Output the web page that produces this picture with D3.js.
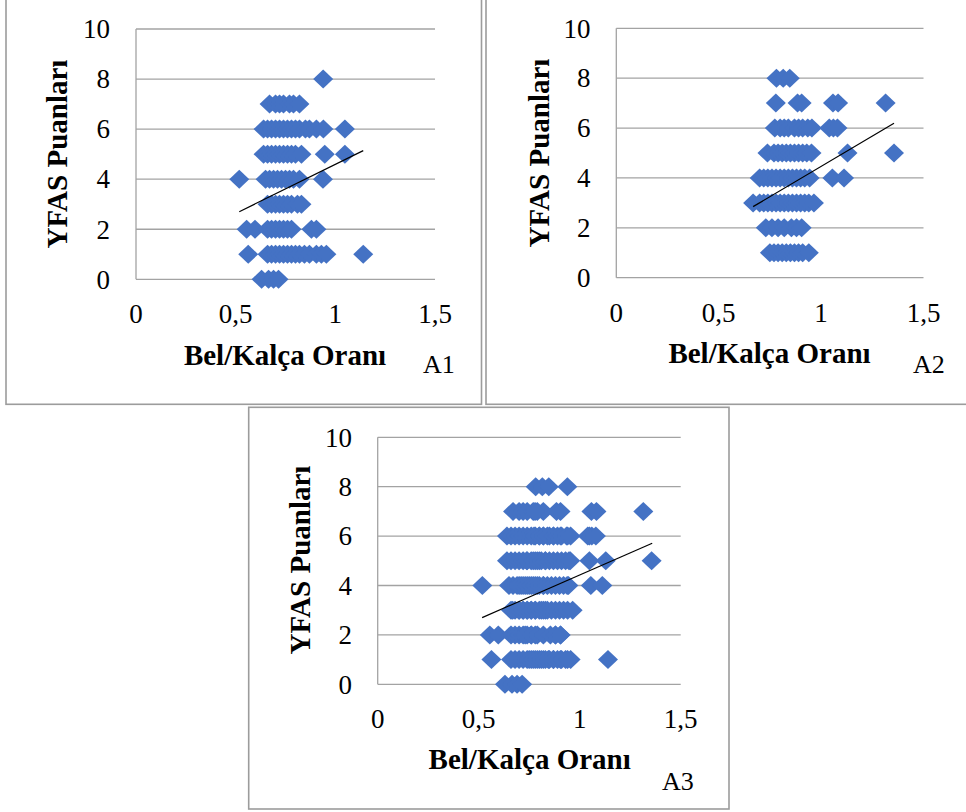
<!DOCTYPE html>
<html>
<head>
<meta charset="utf-8">
<script src="https://cdn.jsdelivr.net/npm/d3@7/dist/d3.min.js"></script>
<style>
  html, body { margin: 0; padding: 0; background: #fff; }
  svg { display: block; }
</style>
</head>
<body>
<svg id="chart" width="966" height="812"></svg>
<script>
// Shared axis content
const xTicks = [0, 0.5, 1, 1.5];
const yTicks = [0, 2, 4, 6, 8, 10];
const xTitle = "Bel/Kalça Oranı";
const yTitle = "YFAS Puanları";
const panelNames = ["A1", "A2", "A3"];

// Group A1: waist/hip ratio and YFAS score, one [ratio, score] pair per participant
const groupA1 = [
  [0.63,0],[0.665,0],[0.69,0],[0.715,0],
  [0.563,1],[0.66,1],[0.68,1],[0.70,1],[0.72,1],[0.74,1],[0.76,1],[0.78,1],[0.80,1],[0.82,1],[0.845,1],[0.87,1],[0.905,1],[0.93,1],[0.955,1],[1.14,1],
  [0.555,2],[0.597,2],[0.66,2],[0.68,2],[0.70,2],[0.72,2],[0.74,2],[0.76,2],[0.78,2],[0.88,2],[0.905,2],
  [0.66,3],[0.68,3],[0.70,3],[0.72,3],[0.74,3],[0.76,3],[0.78,3],[0.81,3],[0.83,3],
  [0.518,4],[0.65,4],[0.67,4],[0.69,4],[0.71,4],[0.73,4],[0.75,4],[0.77,4],[0.79,4],[0.82,4],[0.938,4],
  [0.64,5],[0.66,5],[0.68,5],[0.70,5],[0.72,5],[0.74,5],[0.76,5],[0.78,5],[0.80,5],[0.83,5],[0.947,5],[1.048,5],
  [0.64,6],[0.66,6],[0.68,6],[0.70,6],[0.72,6],[0.74,6],[0.76,6],[0.78,6],[0.80,6],[0.82,6],[0.85,6],[0.87,6],[0.905,6],[0.94,6],[1.048,6],
  [0.67,7],[0.70,7],[0.72,7],[0.74,7],[0.77,7],[0.79,7],[0.82,7],
  [0.939,8]
];

// Group A2
const groupA2 = [
  [0.75,1],[0.77,1],[0.79,1],[0.81,1],[0.83,1],[0.85,1],[0.87,1],[0.89,1],[0.91,1],[0.94,1],
  [0.73,2],[0.76,2],[0.79,2],[0.82,2],[0.855,2],[0.88,2],[0.905,2],
  [0.668,3],[0.70,3],[0.72,3],[0.74,3],[0.76,3],[0.78,3],[0.80,3],[0.82,3],[0.84,3],[0.86,3],[0.88,3],[0.90,3],[0.92,3],[0.94,3],[0.965,3],
  [0.70,4],[0.72,4],[0.74,4],[0.76,4],[0.78,4],[0.80,4],[0.82,4],[0.84,4],[0.86,4],[0.88,4],[0.90,4],[0.92,4],[0.944,4],[1.055,4],[1.112,4],
  [0.738,5],[0.77,5],[0.79,5],[0.81,5],[0.83,5],[0.85,5],[0.87,5],[0.89,5],[0.91,5],[0.93,5],[0.953,5],[1.129,5],[1.356,5],
  [0.774,6],[0.80,6],[0.82,6],[0.84,6],[0.87,6],[0.89,6],[0.91,6],[0.935,6],[0.955,6],[1.04,6],[1.06,6],[1.08,6],
  [0.779,7],[0.885,7],[0.905,7],[1.058,7],[1.083,7],[1.315,7],
  [0.782,8],[0.815,8],[0.847,8]
];

// A3 pools both groups
const groupA3 = groupA1.concat(groupA2);

// Linear trend lines: [ratio start, score start, ratio end, score end]
const trendA1 = [0.518, 2.70, 1.14, 5.14];
const trendA2 = [0.668, 2.85, 1.356, 6.19];
const trendA3 = [0.517, 2.70, 1.359, 5.71];

const serif = "'Liberation Serif', 'Times New Roman', Times, 'DejaVu Serif', serif";

const svg = d3.select("#chart");
svg.append("rect").attr("width", 966).attr("height", 812).attr("fill", "#fff");

const gridColor = "#a3a3a3";
const frameColor = "#9c9c9c";
const markColor = "#4472C4";

// layout of each panel
const panels = [
  { name: panelNames[0], data: groupA1, trend: trendA1,
    frame: [6, -3, 481.5, 404.3],
    plot: { left: 136, right: 435, top: 29, bottom: 279.3 },
    xLabelY: 323, yLabelX: 110,
    xTitle: [285, 365], yTitle: [67, 154], tag: [423, 373] },
  { name: panelNames[1], data: groupA2, trend: trendA2,
    frame: [486, -3, 975, 404.3],
    plot: { left: 616.3, right: 923.5, top: 28.3, bottom: 277.7 },
    xLabelY: 321.5, yLabelX: 590.5,
    xTitle: [769.5, 363.3], yTitle: [549, 153], tag: [913, 373] },
  { name: panelNames[2], data: groupA3, trend: trendA3,
    frame: [248.7, 407.3, 729, 809],
    plot: { left: 377.7, right: 680.7, top: 437.3, bottom: 684.3 },
    xLabelY: 728.3, yLabelX: 352,
    xTitle: [529.7, 769.3], yTitle: [310, 560], tag: [662, 790] }
];

// diamond marker, 20px wide and 19px tall
const diamondMark = {
  draw(ctx) {
    ctx.moveTo(0, -9.5);
    ctx.lineTo(10, 0);
    ctx.lineTo(0, 9.5);
    ctx.lineTo(-10, 0);
    ctx.closePath();
  }
};
const diamond = d3.symbol().type(diamondMark);

panels.forEach(p => {
  const g = svg.append("g").attr("font-family", serif);
  const [fx0, fy0, fx1, fy1] = p.frame;
  g.append("rect")
    .attr("x", fx0).attr("y", fy0)
    .attr("width", fx1 - fx0).attr("height", fy1 - fy0)
    .attr("fill", "none").attr("stroke", frameColor).attr("stroke-width", 1.6);

  const x = d3.scaleLinear().domain([0, 1.5]).range([p.plot.left, p.plot.right]);
  const y = d3.scaleLinear().domain([0, 10]).range([p.plot.bottom, p.plot.top]);

  // horizontal gridlines (the one at 0 is the x axis)
  g.selectAll("line.grid").data(yTicks).enter().append("line")
    .attr("x1", x(0)).attr("x2", x(1.5))
    .attr("y1", d => y(d)).attr("y2", d => y(d))
    .attr("stroke", gridColor).attr("stroke-width", 1.3);
  // vertical axis line
  g.append("line")
    .attr("x1", x(0)).attr("x2", x(0))
    .attr("y1", y(10)).attr("y2", y(0))
    .attr("stroke", gridColor).attr("stroke-width", 1.3);

  // tick labels
  g.selectAll("text.yt").data(yTicks).enter().append("text")
    .attr("font-family", serif)
    .attr("x", p.yLabelX).attr("y", d => y(d) + 9.3)
    .attr("text-anchor", "end").attr("font-size", 27)
    .text(d => d);
  g.selectAll("text.xt").data(xTicks).enter().append("text")
    .attr("font-family", serif)
    .attr("x", d => x(d)).attr("y", p.xLabelY)
    .attr("text-anchor", "middle").attr("font-size", 27)
    .text(d => String(d).replace(".", ","));

  // axis titles
  g.append("text")
    .attr("font-family", serif)
    .attr("x", p.xTitle[0]).attr("y", p.xTitle[1])
    .attr("text-anchor", "middle").attr("font-size", 29).attr("font-weight", "bold")
    .text(xTitle);
  g.append("text")
    .attr("font-family", serif)
    .attr("transform", `translate(${p.yTitle[0]},${p.yTitle[1]}) rotate(-90)`)
    .attr("text-anchor", "middle").attr("font-size", 29).attr("font-weight", "bold")
    .text(yTitle);
  g.append("text")
    .attr("font-family", serif)
    .attr("x", p.tag[0]).attr("y", p.tag[1])
    .attr("font-size", 26)
    .text(p.name);

  // markers
  g.selectAll("path.pt").data(p.data).enter().append("path")
    .attr("d", diamond)
    .attr("transform", d => `translate(${x(d[0])},${y(d[1])})`)
    .attr("fill", markColor);

  // trend line
  g.append("line")
    .attr("x1", x(p.trend[0])).attr("y1", y(p.trend[1]))
    .attr("x2", x(p.trend[2])).attr("y2", y(p.trend[3]))
    .attr("stroke", "#000").attr("stroke-width", 1.2);
});
</script>
</body>
</html>
